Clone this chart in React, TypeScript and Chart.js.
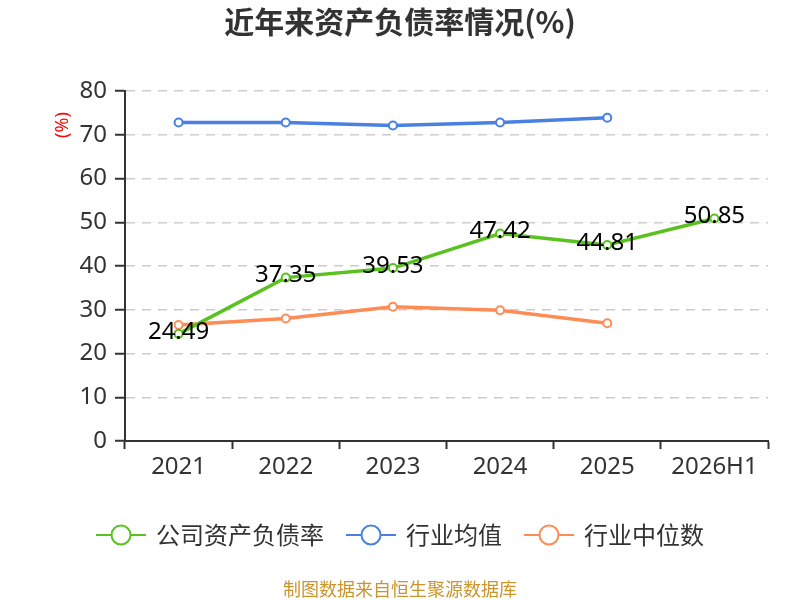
import { useEffect, useRef } from "react"
import { Chart, registerables } from "chart.js"

Chart.register(...registerables)

const years = ["2021", "2022", "2023", "2024", "2025", "2026H1"]
const companyRatio = [24.49, 37.35, 39.53, 47.42, 44.81, 50.85]
const industryAvg = [72.8, 72.8, 72.1, 72.8, 73.9, null]
const industryMedian = [26.5, 28.0, 30.7, 29.9, 26.9, null]
const seriesNames = ["公司资产负债率", "行业均值", "行业中位数"]
const seriesColors = ["#5ac21e", "#4a80e0", "#ff8c55"]

const chartTitle = "近年来资产负债率情况(%)"
const yAxisTitle = "(%)"
const footerText = "制图数据来自恒生聚源数据库"

const FONT = "'Noto Sans', 'Noto Sans CJK SC', sans-serif"
const CJK = "'Noto Sans CJK SC', 'Noto Sans', sans-serif"

// draws value labels, title, y-axis title, legend and source note
const decorations = {
  id: "decorations",
  afterDatasetsDraw(chart: Chart) {
    const ctx = chart.ctx
    const meta = chart.getDatasetMeta(0)
    ctx.save()
    ctx.font = `24px ${FONT}`
    ctx.fillStyle = "#000"
    ctx.textAlign = "center"
    ctx.textBaseline = "middle"
    meta.data.forEach((pt: any, i: number) => {
      ctx.fillText(companyRatio[i].toFixed(2), pt.x, pt.y - 2)
    })
    ctx.restore()
  },
  afterDraw(chart: Chart) {
    const ctx = chart.ctx
    const w = chart.width
    ctx.save()

    // title
    ctx.font = `bold 30px ${CJK}`
    ctx.fillStyle = "#333"
    ctx.textAlign = "center"
    ctx.textBaseline = "middle"
    ctx.fillText(chartTitle, w / 2, 22)

    // y axis unit
    ctx.save()
    ctx.translate(63, 125)
    ctx.rotate(-Math.PI / 2)
    ctx.font = `18px ${FONT}`
    ctx.fillStyle = "#ff0000"
    ctx.fillText(yAxisTitle, 0, 0)
    ctx.restore()

    // legend
    ctx.font = `24px ${CJK}`
    ctx.textAlign = "left"
    const iconW = 50
    const textGap = 10
    const itemGap = 22
    const widths = seriesNames.map((n) => iconW + textGap + ctx.measureText(n).width)
    const total = widths.reduce((a, b) => a + b, 0) + itemGap * (seriesNames.length - 1)
    let x = (w - total) / 2
    const ly = 535
    seriesNames.forEach((name, i) => {
      ctx.strokeStyle = seriesColors[i]
      ctx.lineWidth = 2
      ctx.beginPath()
      ctx.moveTo(x, ly)
      ctx.lineTo(x + iconW, ly)
      ctx.stroke()
      ctx.beginPath()
      ctx.arc(x + iconW / 2, ly, 9.5, 0, Math.PI * 2)
      ctx.fillStyle = "#fff"
      ctx.fill()
      ctx.stroke()
      ctx.fillStyle = "#333"
      ctx.fillText(name, x + iconW + textGap, ly)
      x += widths[i] + itemGap
    })

    // source note
    ctx.font = `18px ${CJK}`
    ctx.fillStyle = "#c9952d"
    ctx.textAlign = "center"
    ctx.fillText(footerText, w / 2, 589)

    ctx.restore()
  },
}

function makeDataset(label: string, data: (number | null)[], color: string) {
  return {
    label,
    data,
    borderColor: color,
    backgroundColor: "#fff",
    borderWidth: 3.5,
    pointRadius: 4,
    pointBorderWidth: 2,
    pointBackgroundColor: "#fff",
    pointBorderColor: color,
    tension: 0,
  }
}

export default function App() {
  const chartRef = useRef<HTMLCanvasElement>(null)
  const chartInstance = useRef<Chart | null>(null)

  useEffect(() => {
    document.body.style.margin = "0"
    if (!chartRef.current) return
    if (chartInstance.current) chartInstance.current.destroy()
    const ctx = chartRef.current.getContext("2d")
    if (!ctx) return

    chartInstance.current = new Chart(ctx, {
      type: "line",
      data: {
        labels: years,
        datasets: [
          makeDataset(seriesNames[0], companyRatio, seriesColors[0]),
          makeDataset(seriesNames[1], industryAvg, seriesColors[1]),
          makeDataset(seriesNames[2], industryMedian, seriesColors[2]),
        ],
      },
      options: {
        responsive: false,
        animation: false,
        layout: { padding: { top: 91, right: 32, left: 0, bottom: 0 } },
        scales: {
          x: {
            offset: true,
            afterFit: (scale: any) => {
              scale.height = 159
            },
            grid: {
              offset: true,
              drawOnChartArea: false,
              drawTicks: true,
              tickLength: 8,
              tickColor: "#333",
              tickWidth: 2,
            },
            border: { color: "#333", width: 2 },
            ticks: {
              color: "#333",
              font: { size: 24, family: FONT },
              padding: 4,
              maxRotation: 0,
            },
          },
          y: {
            min: 0,
            max: 80,
            afterFit: (scale: any) => {
              scale.width = 125
            },
            grid: {
              color: "#cccccc",
              lineWidth: 1.5,
              tickLength: 10,
              tickColor: "#333",
              tickWidth: 2,
            },
            border: { color: "#333", width: 2, dash: [9, 7] },
            ticks: {
              stepSize: 10,
              color: "#333",
              font: { size: 24, family: FONT },
              padding: 8,
            },
          },
        },
        plugins: {
          legend: { display: false },
          title: { display: false },
          tooltip: { enabled: false },
        },
      },
      plugins: [decorations],
    })

    return () => {
      if (chartInstance.current) {
        chartInstance.current.destroy()
        chartInstance.current = null
      }
    }
  }, [])

  return (
    <div style={{ width: 800, height: 600 }}>
      <canvas ref={chartRef} width={800} height={600} />
    </div>
  )
}
